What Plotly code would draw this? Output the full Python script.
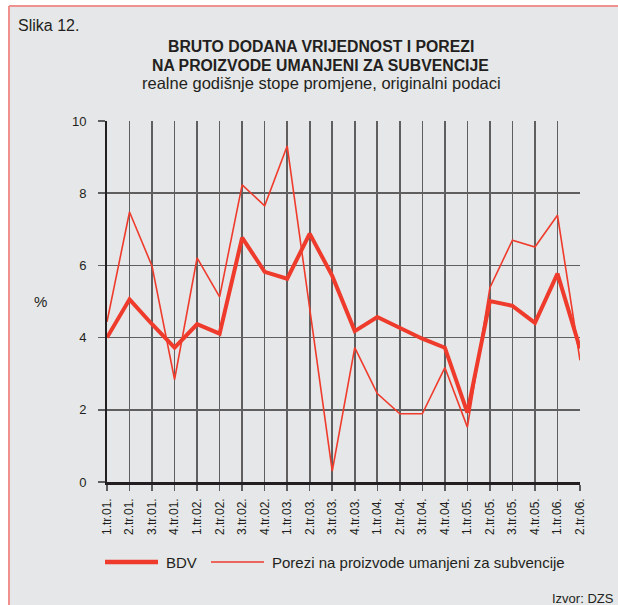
import plotly.graph_objects as go

categories = ["1.tr.01.", "2.tr.01.", "3.tr.01.", "4.tr.01.",
              "1.tr.02.", "2.tr.02.", "3.tr.02.", "4.tr.02.",
              "1.tr.03.", "2.tr.03.", "3.tr.03.", "4.tr.03.",
              "1.tr.04.", "2.tr.04.", "3.tr.04.", "4.tr.04.",
              "1.tr.05.", "2.tr.05.", "3.tr.05.", "4.tr.05.",
              "1.tr.06.", "2.tr.06."]
bdv = [4.0, 5.06, 4.37, 3.72, 4.37, 4.11, 6.77, 5.82, 5.63, 6.88, 5.71,
       4.18, 4.57, 4.26, 3.97, 3.72, 1.92, 5.01, 4.88, 4.41, 5.77, 3.70]
porezi = [4.44, 7.48, 5.98, 2.84, 6.21, 5.13, 8.23, 7.65, 9.31, 4.85, 0.30,
          3.72, 2.45, 1.89, 1.89, 3.17, 1.52, 5.38, 6.70, 6.51, 7.39, 3.37]
y_ticks = [0, 2, 4, 6, 8, 10]
series_names = ["BDV", "Porezi na proizvode umanjeni za subvencije"]

RED = "#ef3b2c"
TXT = "#231f20"
PINK = "#f0908f"
FONT = "Liberation Sans, Arial, sans-serif"
idx = list(range(len(categories)))

fig = go.Figure()
fig.add_trace(go.Scatter(x=idx, y=bdv, mode="lines", name=series_names[0],
                         line=dict(color=RED, width=4), cliponaxis=False,
                         hoverinfo="skip"))
fig.add_trace(go.Scatter(x=idx, y=porezi, mode="lines", name=series_names[1],
                         line=dict(color=RED, width=1.6), cliponaxis=False,
                         hoverinfo="skip"))

W, H = 618, 605
L, R, T, B = 107, 38, 121, 123
pw, ph = W - L - R, H - T - B


def px(x):
    return (x - L) / pw


def py(y):
    return (H - B - y) / ph


fig.update_layout(
    width=W, height=H,
    margin=dict(l=L, r=R, t=T, b=B),
    paper_bgcolor="white",
    plot_bgcolor="#e6e7e8",
    font=dict(family=FONT, color=TXT, size=12),
    showlegend=False,
    hovermode=False,
    xaxis=dict(range=[0, len(categories) - 1], tickvals=idx, ticktext=categories,
               tickangle=-90, showgrid=True, gridcolor="#5f5f5f", gridwidth=1.6,
               showline=True, linecolor=TXT, linewidth=2.5,
               ticks="outside", ticklen=6, tickcolor="#5f5f5f", tickwidth=1.5,
               ticklabelstandoff=3,
               tickfont=dict(size=12, color=TXT), zeroline=False, fixedrange=True),
    yaxis=dict(range=[0, 10], tickvals=y_ticks, showgrid=True,
               gridcolor="#5f5f5f", gridwidth=1.6, showline=True,
               linecolor=TXT, linewidth=2, ticks="outside", ticklen=7,
               tickcolor="#5f5f5f", tickwidth=1.5, ticklabelstandoff=9,
               tickfont=dict(size=13, color=TXT), zeroline=False,
               fixedrange=True),
)

# grey panel (extends beyond the right/bottom edges) with pink top/left border
fig.add_shape(type="rect", xref="paper", yref="paper",
              x0=px(9), x1=px(W + 20), y0=py(H + 20), y1=py(6),
              fillcolor="#e6e7e8", line=dict(width=0), layer="below")
fig.add_shape(type="line", xref="paper", yref="paper",
              x0=px(9), x1=px(W), y0=py(6), y1=py(6),
              line=dict(color=PINK, width=2), layer="below")
fig.add_shape(type="line", xref="paper", yref="paper",
              x0=px(9), x1=px(9), y0=py(6), y1=py(H),
              line=dict(color=PINK, width=2), layer="below")

# manual legend
fig.add_shape(type="line", xref="paper", yref="paper", x0=px(105), x1=px(158),
              y0=py(562), y1=py(562), line=dict(color=RED, width=4.5))
fig.add_shape(type="line", xref="paper", yref="paper", x0=px(211), x1=px(264),
              y0=py(562), y1=py(562), line=dict(color=RED, width=1.6))
fig.add_annotation(text=series_names[0], xref="paper", yref="paper",
                   x=px(164), y=py(562), xanchor="left", yanchor="middle",
                   showarrow=False, font=dict(size=15, family=FONT, color=TXT))
fig.add_annotation(text=series_names[1], xref="paper", yref="paper",
                   x=px(270), y=py(562), xanchor="left", yanchor="middle",
                   showarrow=False, font=dict(size=15, family=FONT, color=TXT))

fig.add_annotation(text="Slika 12.", xref="paper", yref="paper",
                   x=px(16), y=py(25), xanchor="left", yanchor="middle",
                   showarrow=False, font=dict(size=16, family=FONT, color=TXT))
fig.add_annotation(text="<b>BRUTO DODANA VRIJEDNOST I POREZI</b>", xref="paper",
                   yref="paper", x=px(321), y=py(46), xanchor="center",
                   yanchor="middle", showarrow=False,
                   font=dict(size=15.8, family=FONT, color=TXT))
fig.add_annotation(text="<b>NA PROIZVODE UMANJENI ZA SUBVENCIJE</b>", xref="paper",
                   yref="paper", x=px(320), y=py(66), xanchor="center",
                   yanchor="middle", showarrow=False,
                   font=dict(size=15.8, family=FONT, color=TXT))
fig.add_annotation(text="realne godišnje stope promjene, originalni podaci",
                   xref="paper", yref="paper", x=px(321), y=py(83),
                   xanchor="center", yanchor="middle", showarrow=False,
                   font=dict(size=16.5, family=FONT, color=TXT))
fig.add_annotation(text="%", xref="paper", yref="paper", x=px(40), y=py(301),
                   xanchor="center", yanchor="middle", showarrow=False,
                   font=dict(size=15, family=FONT, color=TXT))
fig.add_annotation(text="Izvor: DZS", xref="paper", yref="paper", x=px(616),
                   y=py(598), xanchor="right", yanchor="middle", showarrow=False,
                   font=dict(size=13, family=FONT, color=TXT))

fig.write_html("out.html",
               config={"displayModeBar": False, "staticPlot": True},
               post_script="document.body.style.margin='0';"
                           "document.body.style.overflow='hidden';")
